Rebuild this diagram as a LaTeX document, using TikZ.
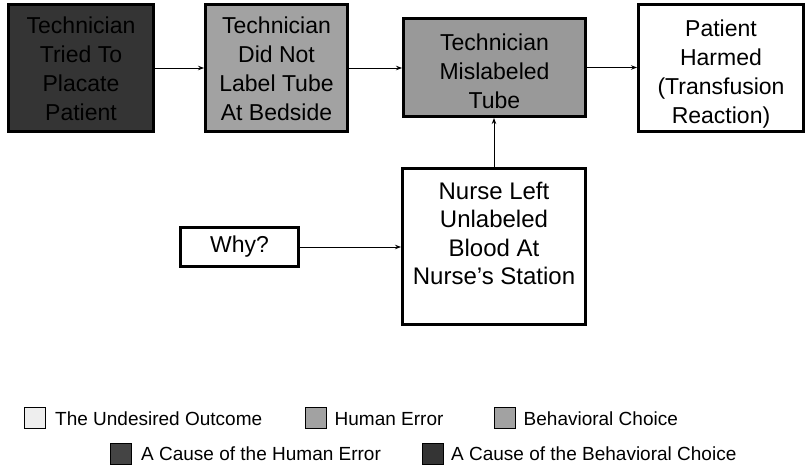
\documentclass[tikz,border=0pt]{standalone}
\usepackage{fontspec}
\setmainfont{Liberation Sans}
\usetikzlibrary{arrows.meta}

\definecolor{outcome}{HTML}{EEEEEE}
\definecolor{human}{HTML}{A2A2A2}
\definecolor{mislabel}{HTML}{999999}
\definecolor{causeHE}{HTML}{444444}
\definecolor{causeBC}{HTML}{343434}

\begin{document}
\begin{tikzpicture}[x=1pt,y=-1pt,
  frame/.style={draw=black, line width=2.8pt, inner sep=0pt},
  boxtext/.style={anchor=north, align=center, inner sep=0pt, font=\fontsize{23}{29}\selectfont},
  link/.style={line width=0.9pt, -{Stealth[length=6pt,width=4.5pt]}},
  keybox/.style={draw=black, line width=0.9pt, minimum size=21pt, inner sep=0pt},
  keytext/.style={anchor=base west, inner sep=0pt, font=\fontsize{19}{23}\selectfont}]
\useasboundingbox (0,0) rectangle (806,466);

% chain of events, left to right
\node[frame, fill=causeBC, minimum width=145.2pt, minimum height=127.2pt] (placate) at (81,68) {};
\node[boxtext] (placateText) at (81,16.8) {Technician\\Tried To\\Placate\\Patient};

\node[frame, fill=human, minimum width=142.2pt, minimum height=127.2pt] (nolabel) at (276.5,68) {};
\node[boxtext] (nolabelText) at (276.5,16.8) {Technician\\Did Not\\Label Tube\\At Bedside};

\node[frame, fill=mislabel, minimum width=182.2pt, minimum height=98.2pt] (mislabel) at (494.5,67.5) {};
\node[boxtext] (mislabelText) at (494.5,33.3) {Technician\\Mislabeled\\Tube};

\node[frame, fill=white, minimum width=165.2pt, minimum height=127.2pt] (harm) at (721,68) {};
\node[boxtext] (harmText) at (721,19.3) {Patient\\Harmed\\(Transfusion\\Reaction)};

% contributing branch
\node[frame, fill=white, minimum width=183.2pt, minimum height=156.2pt] (nurse) at (494,246.5) {};
\node[boxtext, font=\fontsize{24}{28.5}\selectfont] (nurseText) at (494,181.5)
  {Nurse Left\\Unlabeled\\Blood At\\Nurse’s Station};

\node[frame, fill=white, minimum width=118.2pt, minimum height=39.2pt,
      font=\fontsize{23}{29}\selectfont] (why) at (239.5,247) {Why?};

% connectors
\draw[link] (placate.east) -- (placate.east -| nolabel.west);
\draw[link] (nolabel.east) -- (nolabel.east -| mislabel.west);
\draw[link] (mislabel.east) -- (mislabel.east -| harm.west);
\draw[link] (nurse.north) -- (nurse.north |- mislabel.south);
\draw[link] (why.east) -- (why.east -| nurse.west);

% legend
\node[keybox, fill=outcome] (kOutcome) at (34.5,418) {};
\node[keytext] (tOutcome) at (55,425) {The Undesired Outcome};
\node[keybox, fill=human] (kHuman) at (316,418) {};
\node[keytext] (tHuman) at (334.5,425) {Human Error};
\node[keybox, fill=human] (kChoice) at (504.5,418) {};
\node[keytext] (tChoice) at (523.5,425) {Behavioral Choice};

\node[keybox, fill=causeHE] (kCauseHE) at (121,454) {};
\node[keytext] (tCauseHE) at (141,460.7) {A Cause of the Human Error};
\node[keybox, fill=causeBC] (kCauseBC) at (432.5,454) {};
\node[keytext] (tCauseBC) at (451,460.7) {A Cause of the Behavioral Choice};
\end{tikzpicture}
\end{document}
